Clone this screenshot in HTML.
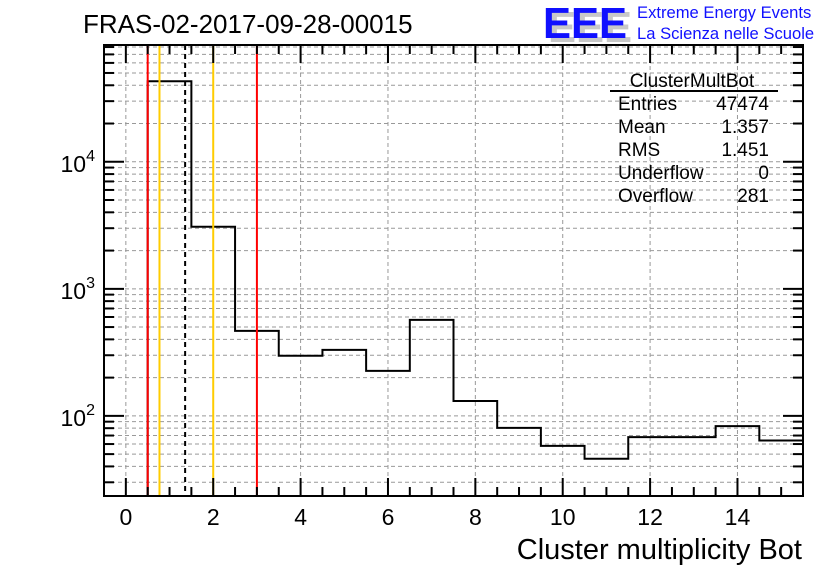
<!DOCTYPE html>
<html><head><meta charset="utf-8"><style>
body{margin:0;background:#fff;width:836px;height:572px;overflow:hidden}
svg{display:block;font-family:"Liberation Sans",sans-serif}
</style></head><body>
<svg id="c" width="836" height="572">
<text x="83" y="33" font-size="26">FRAS-02-2017-09-28-00015</text>
<g>
<text x="548" y="42" font-size="44" font-weight="bold" fill="#c8c8c8" textLength="84" lengthAdjust="spacingAndGlyphs">EEE</text>
<text x="543" y="38" font-size="44" font-weight="bold" fill="#1010ff" textLength="84" lengthAdjust="spacingAndGlyphs">EEE</text>
<text x="637" y="18" font-size="16.6" fill="#1010ff">Extreme Energy Events</text>
<text x="637" y="39" font-size="16.6" fill="#1010ff">La Scienza nelle Scuole</text>
</g>
<g id="grid"></g><g id="marks"></g><g id="axes"></g>
<g font-size="19">
<text x="692" y="87" text-anchor="middle">ClusterMultBot</text>
<line x1="610" y1="91" x2="778" y2="91" stroke="#000" stroke-width="2"/>
<text x="618" y="110">Entries</text><text x="769" y="110" text-anchor="end">47474</text>
<text x="618" y="133">Mean</text><text x="769" y="133" text-anchor="end">1.357</text>
<text x="618" y="156">RMS</text><text x="769" y="156" text-anchor="end">1.451</text>
<text x="618" y="179">Underflow</text><text x="769" y="179" text-anchor="end">0</text>
<text x="618" y="202">Overflow</text><text x="769" y="202" text-anchor="end">281</text>
</g>
<text x="802" y="559" font-size="29" text-anchor="end">Cluster multiplicity Bot</text>
</svg>
<script>
const binCenters=[0,1,2,3,4,5,6,7,8,9,10,11,12,13,14,15];
const counts=[0,43000,3080,467,297,331,226,570,131,80.5,58,46,68,68,83,64];
const xTicks=[0,2,4,6,8,10,12,14];
const yDecades=[2,3,4];
const vlines=[{v:0.5,c:"#ff0000",d:""},{v:3.0,c:"#ff0000",d:""},{v:0.77,c:"#ffcc00",d:""},{v:2.0,c:"#ffcc00",d:""},{v:1.357,c:"#000",d:"5,4"}];
const L=104,R=803,T=45,B=496,xmin=-0.5,xmax=15.5,lymin=Math.log10(23.4),lymax=Math.log10(83000);
const X=v=>L+(v-xmin)/(xmax-xmin)*(R-L);
const Y=v=>B-(Math.log10(v)-lymin)/(lymax-lymin)*(B-T);
const NS="http://www.w3.org/2000/svg";
function mk(p,tag,a){const e=document.createElementNS(NS,tag);for(const k in a)e.setAttribute(k,a[k]);p.appendChild(e);return e;}
const grid=document.getElementById('grid'),marks=document.getElementById('marks'),axes=document.getElementById('axes');
xTicks.forEach(t=>{const l=mk(grid,'line',{x1:X(t),x2:X(t),y1:T,y2:B,stroke:'#999','stroke-dasharray':'4,3','stroke-width':1});
});
for(let d=1;d<=4;d++)for(let m=1;m<10;m++){const v=m*Math.pow(10,d);const y=Y(v);if(y<T||y>B)continue;
const l=mk(grid,'line',{x1:L,x2:R,y1:y,y2:y,stroke:'#999','stroke-dasharray':'4,3','stroke-width':1});

const len=m===1?20:10;mk(axes,'line',{x1:L,x2:L+len,y1:y,y2:y,stroke:'#000','stroke-width':2});mk(axes,'line',{x1:R,x2:R-len,y1:y,y2:y,stroke:'#000','stroke-width':2});}
let d='';binCenters.forEach((c,i)=>{const v=counts[i];const y=v>0?Math.min(Y(v),B):B;const x0=Math.max(X(c-0.5),L),x1=Math.min(X(c+0.5),R);
d+=(i===0?'M':'L')+x0+','+y+' L'+x1+','+y+' ';});
const h=mk(marks,'path',{d:d,fill:'none',stroke:'#000','stroke-width':2});

vlines.forEach(v=>{const l=mk(marks,'line',{x1:X(v.v),x2:X(v.v),y1:T,y2:B,stroke:v.c,'stroke-width':2,'stroke-dasharray':v.d});
});
const fr=mk(axes,'rect',{x:L,y:T,width:R-L,height:B-T,fill:'none',stroke:'#000','stroke-width':2});

for(let v=-0.5;v<=15.5;v+=0.5){const maj=Math.abs(v/2-Math.round(v/2))<1e-9;const len=maj?18:9;
mk(axes,'line',{x1:X(v),x2:X(v),y1:B,y2:B-len,stroke:'#000','stroke-width':2});mk(axes,'line',{x1:X(v),x2:X(v),y1:T,y2:T+len,stroke:'#000','stroke-width':2});}
xTicks.forEach(t=>{const e=mk(axes,'text',{x:X(t),y:525,'font-size':23,'text-anchor':'middle'});e.textContent=t;
});
yDecades.forEach(p=>{const e=mk(axes,'text',{x:95,y:Y(Math.pow(10,p))+10,'font-size':23,'text-anchor':'end'});
e.innerHTML='10<tspan dy="-11" font-size="16">'+p+'</tspan>';
});
</script>
</body></html>
